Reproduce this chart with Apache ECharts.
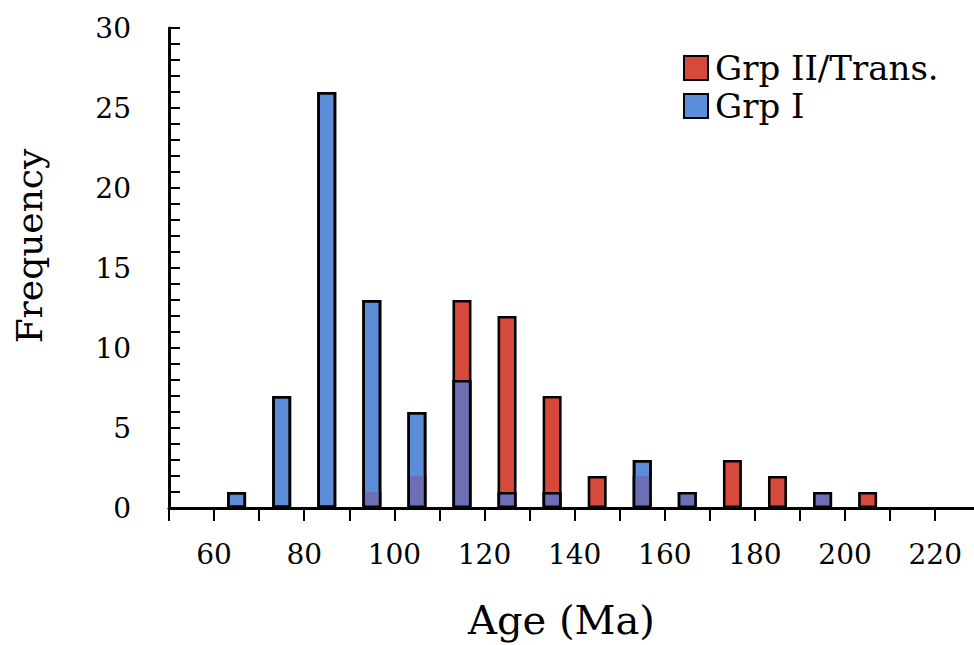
<!DOCTYPE html>
<html>
<head>
<meta charset="utf-8">
<script src="https://cdn.jsdelivr.net/npm/echarts@6/dist/echarts.min.js"></script>
<style>
html,body{margin:0;padding:0;background:#fff;}
#chart{width:974px;height:645px;}
</style>
</head>
<body>
<div id="chart"></div>
<script>
// Bin centers (Age, Ma)
const binCenters = [65, 75, 85, 95, 105, 115, 125, 135, 145, 155, 165, 175, 185, 195, 205];
// Frequencies
const grpI = [1, 7, 26, 13, 6, 8, 1, 1, 0, 3, 1, 0, 0, 1, 0];
const grpII = [0, 0, 0, 1, 2, 13, 12, 7, 2, 2, 1, 3, 2, 1, 1];
const seriesNames = ['Grp II/Trans.', 'Grp I'];
const xTickLabels = [60, 80, 100, 120, 140, 160, 180, 200, 220];
const yTickLabels = [0, 5, 10, 15, 20, 25, 30];

const FONT = '"DejaVu Serif", serif';
const toPairs = (vals) => binCenters.map((c, i) => vals[i] > 0 ? [c, vals[i]] : [c, '-']);
// overlap of the two histograms (where both groups are drawn)
const overlap = binCenters.map((c, i) => Math.min(grpI[i], grpII[i]));

const BW = 19, BORDER = 2.6;
const barBase = {type: 'bar', barWidth: BW, barGap: '-100%'};
const chart = echarts.init(document.getElementById('chart'), null, {renderer: 'svg'});
chart.setOption({
  animation: false,
  backgroundColor: '#fff',
  grid: {left: 169, right: 0, top: 28, bottom: 137, containLabel: false},
  legend: {
    data: seriesNames,
    orient: 'vertical',
    left: 678,
    top: 46,
    itemWidth: 24,
    itemHeight: 24,
    itemGap: 4,
    icon: 'rect',
    textStyle: {fontFamily: FONT, fontSize: 34, color: '#000', padding: [0, 0, 0, 2]}
  },
  xAxis: {
    type: 'value',
    min: 50, max: 228.6, interval: 10,
    name: 'Age (Ma)',
    nameLocation: 'middle',
    nameGap: 92,
    nameTextStyle: {fontFamily: FONT, fontSize: 40, color: '#000', padding: [0, 20, 0, 0]},
    axisLine: {show: true, onZero: false, lineStyle: {color: '#000', width: 3}},
    axisTick: {show: true, inside: false, length: 13, lineStyle: {color: '#000', width: 2}},
    axisLabel: {
      margin: 32,
      showMaxLabel: false,
      fontFamily: FONT, fontSize: 28, color: '#000',
      formatter: (v) => xTickLabels.includes(v) ? String(v) : ''
    },
    splitLine: {show: false}
  },
  yAxis: {
    type: 'value',
    min: 0, max: 30, interval: 1,
    name: 'Frequency',
    nameLocation: 'middle',
    nameRotate: 90,
    nameGap: 122,
    nameTextStyle: {fontFamily: FONT, fontSize: 36, color: '#000', padding: [0, 0, 0, 44]},
    axisLine: {show: true, lineStyle: {color: '#000', width: 3}},
    axisTick: {show: true, inside: true, length: 11, lineStyle: {color: '#000', width: 2}},
    axisLabel: {
      margin: 38,
      fontFamily: FONT, fontSize: 28, color: '#000',
      formatter: (v) => yTickLabels.includes(v) ? String(v) : ''
    },
    splitLine: {show: false}
  },
  series: [
    Object.assign({}, barBase, {
      name: seriesNames[0],
      data: toPairs(grpII),
      itemStyle: {color: '#d74a3b', borderColor: '#000', borderWidth: BORDER},
      z: 2
    }),
    Object.assign({}, barBase, {
      name: seriesNames[1],
      data: toPairs(grpI),
      itemStyle: {color: '#5b8dd8', borderColor: '#000', borderWidth: BORDER},
      z: 3
    }),
    Object.assign({}, barBase, {
      name: 'overlap',
      data: toPairs(overlap),
      itemStyle: {color: '#6c6fb3', borderWidth: 0},
      silent: true,
      z: 4
    }),
    Object.assign({}, barBase, {
      name: 'Grp I outline',
      data: toPairs(grpI),
      itemStyle: {color: 'rgba(0,0,0,0)', borderColor: '#000', borderWidth: BORDER},
      silent: true,
      z: 5
    })
  ]
});
</script>
</body>
</html>
